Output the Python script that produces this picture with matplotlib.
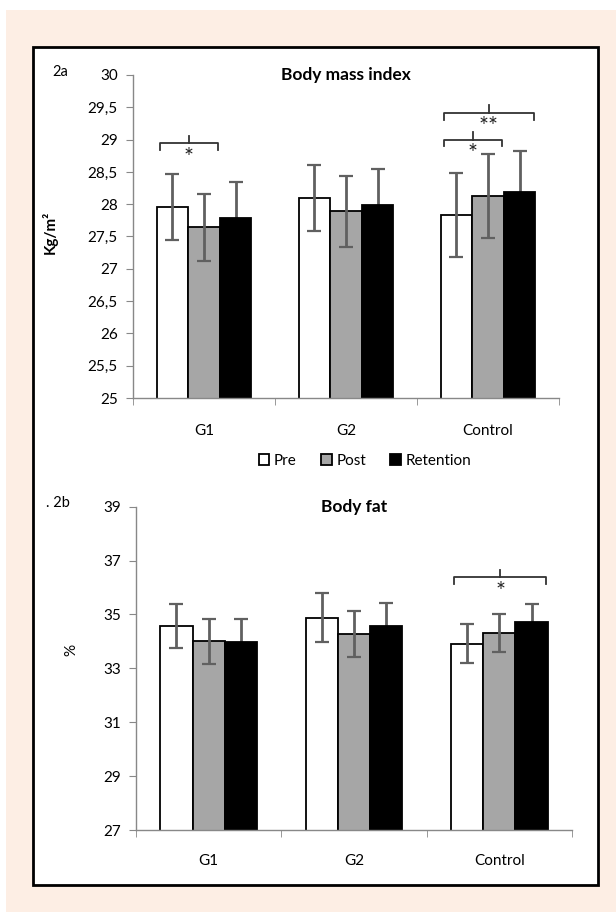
import numpy as np
import matplotlib
matplotlib.use("Agg")
import matplotlib.pyplot as plt
from matplotlib.patches import Rectangle
from matplotlib.ticker import FuncFormatter, FixedLocator

plt.rcParams["font.family"] = ["Lato", "DejaVu Sans"]

groups = ["G1", "G2", "Control"]
series = ["Pre", "Post", "Retention"]
colors = ["white", "#a6a6a6", "black"]

# Body mass index (kg/m2)
bmi_mean = [[27.96, 27.64, 27.79],   # G1
            [28.10, 27.89, 27.98],   # G2
            [27.83, 28.12, 28.19]]   # Control
bmi_err = [[0.51, 0.52, 0.56],
           [0.51, 0.55, 0.56],
           [0.65, 0.65, 0.63]]

# Body fat (%)
fat_mean = [[34.57, 34.01, 33.97],
            [34.88, 34.28, 34.57],
            [33.92, 34.31, 34.72]]
fat_err = [[0.80, 0.83, 0.85],
           [0.90, 0.86, 0.86],
           [0.73, 0.70, 0.65]]

# significance brackets: (group, first series, last series, level, label)
bmi_sig = [(0, 0, 1, 28.94, "*"), (2, 0, 1, 29.00, "*"), (2, 0, 2, 29.41, "**")]
fat_sig = [(2, 0, 2, 36.38, "*")]

W, H = 616, 916
fig = plt.figure(figsize=(W / 100, H / 100), dpi=100)
fig.patches.append(Rectangle((6 / W, 1 - 912 / H), 610 / W, 902 / H, transform=fig.transFigure,
                             facecolor="#fdeee4", edgecolor="none", zorder=-2))
fig.patches.append(Rectangle((33 / W, 1 - 885 / H), 565 / W, 838 / H, transform=fig.transFigure,
                             facecolor="white", edgecolor="black", lw=2, zorder=-1))

bw = 2 / 9
offs = [-bw, 0, bw]


def panel(rect, means, errs, ylim, step, title, sig, xpad):
    ax = fig.add_axes(rect)
    ax.patch.set_alpha(0)
    x = np.arange(len(groups))
    for j in range(3):
        vals = [means[i][j] for i in range(3)]
        ers = [errs[i][j] for i in range(3)]
        ax.bar(x + offs[j], vals, bw, color=colors[j], edgecolor="black", lw=1.3, zorder=2,
               label=series[j])
        # retention bars hide the lower half of their error bars
        ax.errorbar(x + offs[j], vals, yerr=ers, fmt="none", ecolor="#606060", elinewidth=2,
                    capsize=5, capthick=1.6, zorder=1.5 if j == 2 else 3)
    ax.set_xlim(-0.5, 2.5)
    ax.set_ylim(*ylim)
    ax.set_yticks(np.arange(ylim[0], ylim[1] + step / 2, step))
    ax.yaxis.set_major_formatter(FuncFormatter(lambda v, p: f"{v:g}".replace(".", ",")))
    ax.set_xticks(x)
    ax.set_xticklabels(groups)
    ax.xaxis.set_minor_locator(FixedLocator([-0.5, 0.5, 1.5, 2.5]))
    ax.tick_params(axis="x", which="major", length=0, pad=xpad, labelsize=11)
    ax.tick_params(axis="x", which="minor", length=5, color="#888888")
    ax.tick_params(axis="y", length=5, color="#888888", labelsize=11, pad=6)
    for s in ["top", "right"]:
        ax.spines[s].set_visible(False)
    for s in ["left", "bottom"]:
        ax.spines[s].set_color("#888888")
        ax.spines[s].set_linewidth(1)
    ax.text(0.5, 1.0, title, transform=ax.transAxes, ha="center", va="center",
            fontsize=12.5, fontweight="bold")
    # brackets
    span = ylim[1] - ylim[0]
    for g, a, b, lev, lab in sig:
        x0 = g + offs[a] - bw / 2 + 0.02
        x1 = g + offs[b] + bw / 2 - 0.01
        d = span * 0.02
        ax.plot([x0, x0, x1, x1], [lev - d, lev, lev, lev - d], color="#333333", lw=1.3,
                clip_on=False, zorder=4)
        xm = (x0 + x1) / 2
        ax.plot([xm, xm], [lev, lev + d * 1.2], color="#333333", lw=1.3, clip_on=False, zorder=4)
        ax.text(xm, lev - d * 0.5, lab, ha="center", va="top", fontsize=17, color="#222222")
    return ax


ax1 = panel([133 / W, 1 - 398 / H, 426 / W, 323 / H], bmi_mean, bmi_err, (25, 30), 0.5,
            "Body mass index", bmi_sig, 19)
ax2 = panel([136 / W, 1 - 830 / H, 436 / W, 323.3 / H], fat_mean, fat_err, (27, 39), 2,
            "Body fat", fat_sig, 17)

fig.text(60 / W, 1 - 72 / H, "2a", ha="center", va="center", fontsize=10.5)
fig.text(58 / W, 1 - 503 / H, ". 2b", ha="center", va="center", fontsize=10.5)
fig.text(50 / W, 1 - 232 / H, "Kg/m\u00b2", rotation=90, ha="center", va="center",
         fontsize=11, fontweight="bold")
fig.text(71 / W, 1 - 650 / H, "%", rotation=90, ha="center", va="center", fontsize=11)

# legend
handles, labels = ax1.get_legend_handles_labels()
fig.legend(handles, labels, loc="center", bbox_to_anchor=(365 / W, 1 - 461 / H), ncol=3,
           frameon=False, fontsize=11, handlelength=0.7, handleheight=0.7, handletextpad=0.3,
           columnspacing=1.6)

fig.savefig("out.png", dpi=100, facecolor="white")
